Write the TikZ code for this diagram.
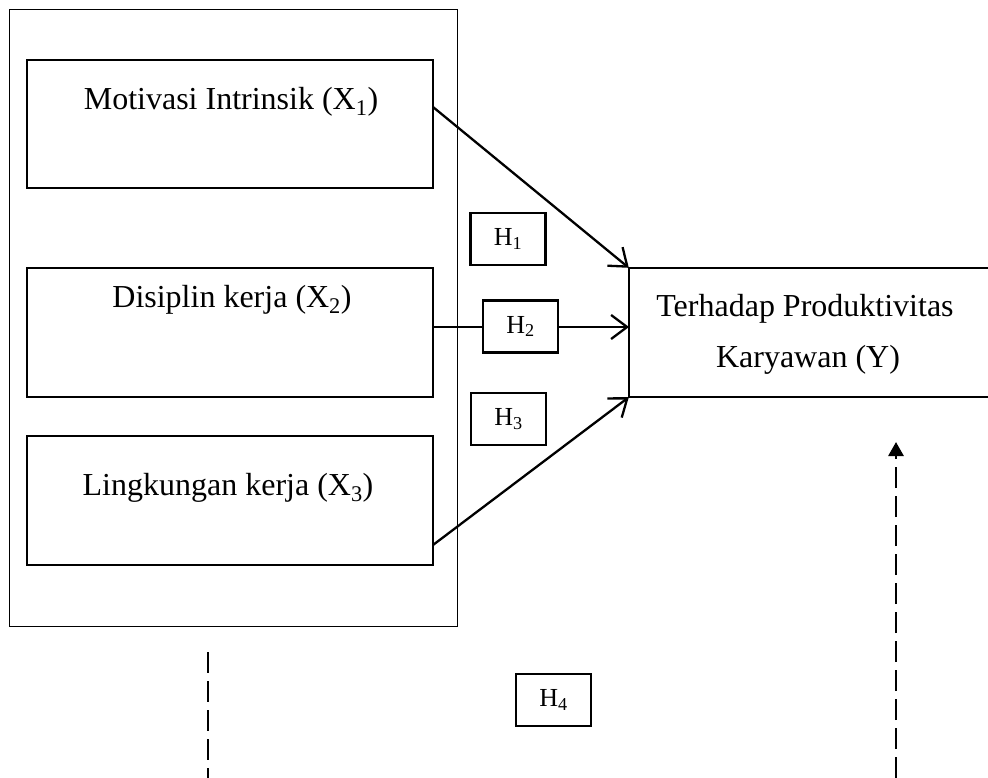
\documentclass[tikz,border=0pt]{standalone}
\usepackage{fontspec}
\setmainfont{Liberation Serif}
\usetikzlibrary{arrows.meta}
\begin{document}
\begin{tikzpicture}[x=1pt,y=-1pt,
  box/.style={draw,line width=2.3pt,rectangle,inner sep=0pt},
  hbox/.style={draw,line width=2.3pt,fill=white,rectangle,inner sep=0pt,minimum width=75pt,minimum height=52pt,font=\fontsize{26}{30}\selectfont},
  lbl/.style={inner sep=0pt,font=\fontsize{32}{38}\selectfont},
  arr/.style={line width=2.3pt,-{Straight Barb[length=16pt,width=24pt,line width=2.3pt]}},
  dsh/.style={line width=2.8pt,dash pattern=on 21pt off 8pt}]
\useasboundingbox (0,0) rectangle (988,778);
\fill[white] (0,0) rectangle (988,778);
% outer frame
\node[draw,line width=1.6pt,rectangle,inner sep=0pt,minimum width=448pt,minimum height=617pt] (outer) at (233.5,318) {};
% variable boxes
\node[box,minimum width=406pt,minimum height=128pt] (x1) at (230,124) {};
\node[box,minimum width=406pt,minimum height=129pt] (x2) at (230,332.5) {};
\node[box,minimum width=406pt,minimum height=129pt] (x3) at (230,500.5) {};
\node[lbl] (t1) at (231,102) {Motivasi Intrinsik (X\textsubscript{1})};
\node[lbl] (t2) at (232,300) {Disiplin kerja (X\textsubscript{2})};
\node[lbl] (t3) at (228,488) {Lingkungan kerja (X\textsubscript{3})};
% Y box (open on the right)
\node[inner sep=0pt,minimum width=359pt,minimum height=129pt] (y) at (808.5,332.5) {};
\draw[line width=2.3pt] (y.north east) -- (y.north west) -- (y.south west) -- (y.south east);
\node[lbl] (ty1) at (805,309) {Terhadap Produktivitas};
\node[lbl] (ty2) at (808,360) {Karyawan (Y)};
% arrows
\coordinate (a1s) at (433,107);
\coordinate (a3s) at (433,545);
\coordinate (a2s) at (433,327);
\coordinate (a2e) at (629,327);
\draw[arr] (a1s) -- (y.north west);
\draw[arr] (a2s) -- (a2e);
\draw[arr] (a3s) -- (y.south west);
% hypothesis boxes
\node[hbox] (h1) at (508,239) {H\textsubscript{1}};
\node[hbox] (h2) at (520.5,326.5) {H\textsubscript{2}};
\node[hbox] (h3) at (508.5,419) {H\textsubscript{3}};
\node[hbox] (h4) at (553.5,700) {H\textsubscript{4}};
% dashed lines
\coordinate (dl1) at (208,652);
\coordinate (dl2) at (208,778);
\draw[dsh] (dl1) -- (dl2);
\coordinate (dr1) at (896,778);
\coordinate (dr2) at (896,442);
\draw[dsh,-{Triangle[length=14pt,width=15pt]}] (dr1) -- (dr2);
\end{tikzpicture}
\end{document}
